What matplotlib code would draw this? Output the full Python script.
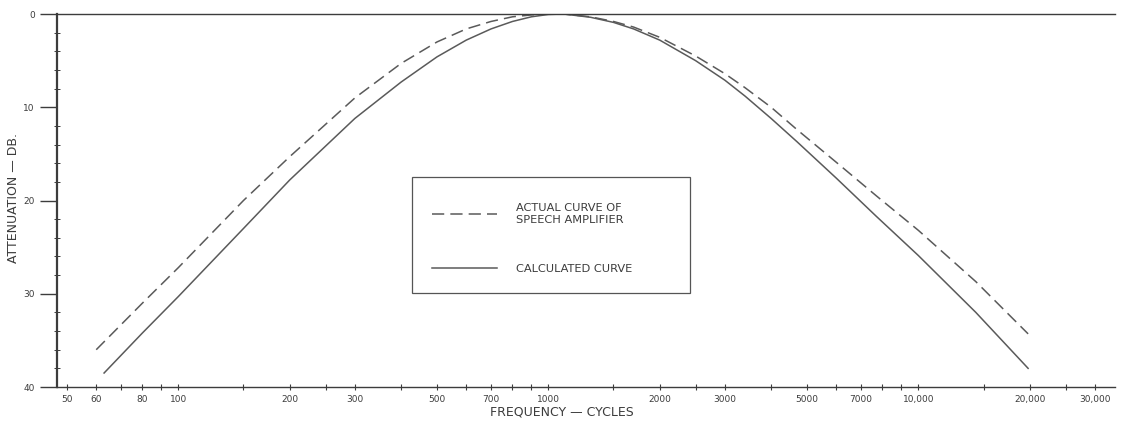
import numpy as np
import matplotlib.pyplot as plt
from matplotlib.patches import Rectangle
from matplotlib.ticker import FixedLocator, FixedFormatter

# --- valeurs ---
freq_calc = [63, 80, 100, 150, 200, 300, 400, 500, 600, 700, 800, 900, 1000, 1100,
             1300, 1500, 1700, 2000, 2500, 3000, 3400, 4000, 4700, 6000, 7700,
             10000, 14300, 19800]
db_calc = [38.5, 34.2, 30.3, 23.0, 17.8, 11.2, 7.3, 4.6, 2.8, 1.6, 0.8, 0.3, 0.05, 0.0,
           0.35, 0.9, 1.6, 2.8, 5.0, 7.1, 8.8, 11.2, 13.7, 17.6, 21.7,
           25.9, 32.0, 38.0]

freq_actual = [60, 80, 100, 150, 200, 300, 400, 500, 600, 700, 800, 900, 1000, 1100,
               1300, 1500, 1700, 2000, 2500, 3000, 3400, 4000, 4700, 6000, 7700,
               10000, 14300, 19800]
db_actual = [36.0, 31.0, 27.2, 20.0, 15.3, 9.0, 5.3, 3.0, 1.6, 0.8, 0.3, 0.1, 0.0, 0.0,
             0.3, 0.8, 1.4, 2.5, 4.5, 6.4, 7.9, 10.0, 12.4, 15.9, 19.5,
             23.2, 28.7, 34.3]

x_ticks = [50, 60, 80, 100, 200, 300, 500, 700, 1000, 2000, 3000, 5000, 7000,
           10000, 20000, 30000]
x_labels = ["50", "60", "80", "100", "200", "300", "500", "700", "1000", "2000",
            "3000", "5000", "7000", "10,000", "20,000", "30,000"]
x_minor = [70, 90, 150, 250, 400, 600, 800, 900, 1500, 2500, 4000, 6000, 8000,
           9000, 15000, 25000]
y_ticks = [0, 10, 20, 30, 40]

ink = "#3c3c3c"
line_col = "#5a5a5a"
W, H = 1122, 424
fig = plt.figure(figsize=(W / 100, H / 100), dpi=100)
ax = fig.add_axes([57 / W, 1 - 387 / H, (1115 - 57) / W, (387 - 14) / H])

ax.plot(freq_actual, db_actual, color=line_col, lw=1.1, dashes=(8, 4),
        label="ACTUAL CURVE OF\nSPEECH AMPLIFIER")
ax.plot(freq_calc, db_calc, color=line_col, lw=1.1, label="CALCULATED CURVE")

ax.set_xscale("log")
ax.set_xlim(47, 34000)
ax.set_ylim(40, 0)

ax.xaxis.set_major_locator(FixedLocator(x_ticks))
ax.xaxis.set_major_formatter(FixedFormatter(x_labels))
ax.xaxis.set_minor_locator(FixedLocator(x_minor))
ax.xaxis.set_minor_formatter(FixedFormatter([]))
ax.set_yticks(y_ticks)
ax.set_yticks(np.arange(0, 41, 2), minor=True)

ax.tick_params(axis="x", which="both", direction="inout", length=4, width=0.8,
               color=ink, labelsize=6.5, pad=4, labelcolor=ink)
ax.tick_params(axis="y", which="major", direction="out", length=12, width=1.0,
               color=ink, labelsize=6.5, pad=4, labelcolor=ink)
ax.tick_params(axis="y", which="minor", direction="inout", length=4, width=0.7,
               color=ink)

ax.spines["right"].set_visible(False)
ax.spines["left"].set_linewidth(1.6)
ax.spines["bottom"].set_linewidth(1.0)
ax.spines["top"].set_linewidth(1.0)
for s in ["left", "bottom", "top"]:
    ax.spines[s].set_color(ink)

# legende : cadre dessine a part
leg = ax.legend(loc="upper left", bbox_to_anchor=(432 / W, 1 - 203 / H),
                bbox_transform=fig.transFigure, frameon=False,
                handlelength=5.7, handletextpad=1.65, borderpad=0,
                labelspacing=3.5, fontsize=8.2, borderaxespad=0)
for t in leg.get_texts():
    t.set_color(ink)
fig.patches.append(Rectangle((412 / W, 1 - 293 / H), (690 - 412) / W, (293 - 177) / H,
                             transform=fig.transFigure, fill=False,
                             edgecolor="#555555", lw=0.9))

fig.text(562 / W, 1 - 412 / H, "FREQUENCY — CYCLES", ha="center",
         va="center", fontsize=9, color=ink)
fig.text(14 / W, 1 - 198 / H, "ATTENUATION — DB.", ha="center",
         va="center", rotation=90, fontsize=9, color=ink)

fig.savefig("out.png", dpi=100)
